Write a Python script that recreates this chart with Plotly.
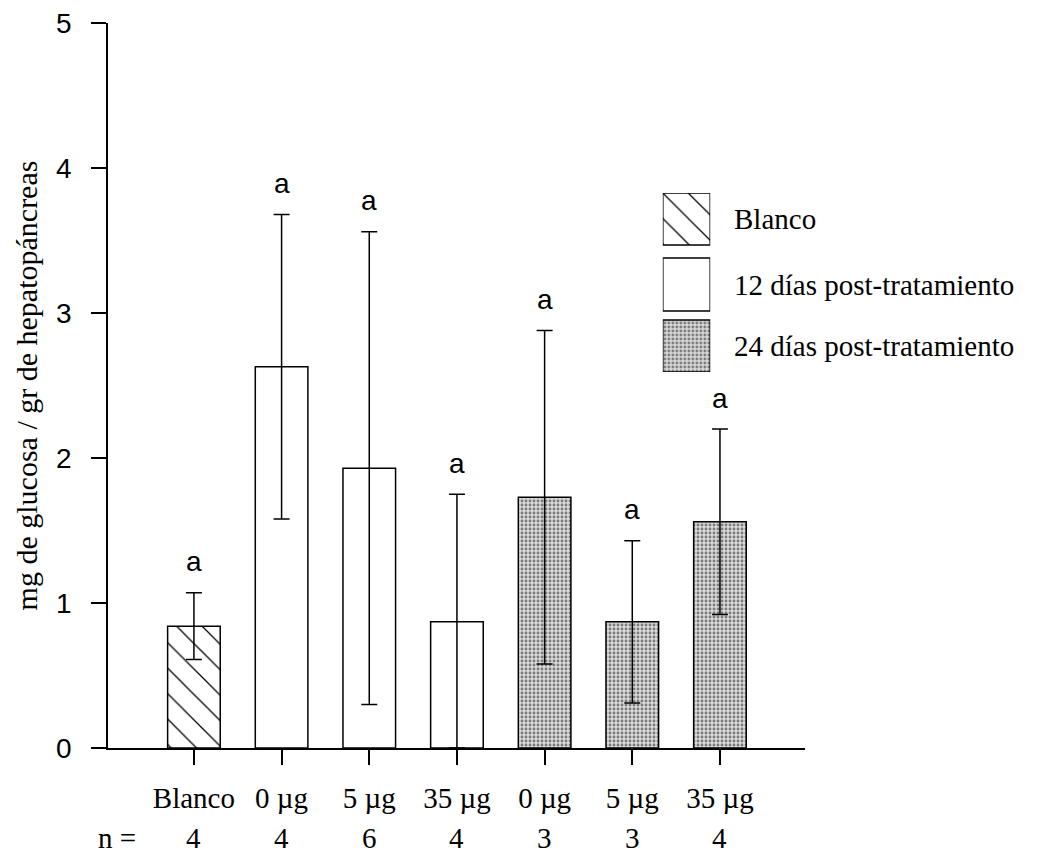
import plotly.graph_objects as go

# ---- data ----
tick_labels = ["Blanco", "0 µg", "5 µg", "35 µg", "0 µg", "5 µg", "35 µg"]
n_values = ["4", "4", "6", "4", "3", "3", "4"]
means = [0.84, 2.63, 1.93, 0.87, 1.73, 0.87, 1.56]
errors = [0.23, 1.05, 1.63, 0.88, 1.15, 0.56, 0.64]
letters = ["a", "a", "a", "a", "a", "a", "a"]
groups = ["Blanco", "12d", "12d", "12d", "24d", "24d", "24d"]
legend_labels = ["Blanco", "12 días post-tratamiento", "24 días post-tratamiento"]
y_title = "mg de glucosa / gr de hepatopáncreas"

SERIF = "Liberation Serif, Times New Roman, serif"
SANS = "Liberation Sans, Arial, sans-serif"

styles = {
    "Blanco": dict(color="white", pattern=dict(shape="\\", fgcolor="black", bgcolor="white",
                                               size=18, solidity=0.07, fillmode="replace")),
    "12d": dict(color="white"),
    "24d": dict(color="#d0d0d0", pattern=dict(shape=".", fgcolor="#7a7a7a", bgcolor="#dadada",
                                              size=4, solidity=0.4, fillmode="replace")),
}

fig = go.Figure()
positions = list(range(len(means)))
for g in ["Blanco", "12d", "24d"]:
    idx = [i for i in positions if groups[i] == g]
    m = dict(styles[g])
    m["line"] = dict(color="black", width=1.5)
    fig.add_trace(go.Bar(
        x=[positions[i] for i in idx],
        y=[means[i] for i in idx],
        width=0.6,
        marker=m,
        error_y=dict(type="data", symmetric=False,
                     array=[errors[i] for i in idx],
                     arrayminus=[min(errors[i], means[i]) for i in idx],
                     color="black", thickness=1.5, width=8),
        showlegend=False,
        xaxis="x", yaxis="y",
    ))

# letters above error bars
for i in positions:
    fig.add_annotation(x=positions[i], y=means[i] + errors[i], text=letters[i],
                       showarrow=False, yanchor="middle", yshift=31,
                       font=dict(family=SANS, size=28, color="black"))

# n row
fig.add_annotation(x=0, xref="paper", xanchor="left", xshift=-12, y=-0.124, yref="paper",
                   yanchor="middle", text="n =", showarrow=False,
                   font=dict(family=SERIF, size=29, color="black"))
for i in positions:
    fig.add_annotation(x=positions[i], y=-0.124, yref="paper", yanchor="middle",
                       text=n_values[i], showarrow=False,
                       font=dict(family=SERIF, size=29, color="black"))

# legend boxes drawn as bars on an auxiliary axis
legend_groups = ["Blanco", "12d", "24d"]
box_base = [127, 61, 0]
box_h = [52, 53, 52]
for k, g in enumerate(legend_groups):
    m = dict(styles[g])
    m["line"] = dict(color="black", width=1.5)
    fig.add_trace(go.Bar(x=[0], y=[box_h[k]], base=[box_base[k]], width=1, marker=m,
                         showlegend=False, xaxis="x2", yaxis="y2", hoverinfo="skip"))
legend_y = [0.7297, 0.639, 0.5545]
for k, lab in enumerate(legend_labels):
    fig.add_annotation(x=0.895, xref="paper", xanchor="left", y=legend_y[k], yref="paper",
                       yanchor="middle", text=lab, showarrow=False,
                       font=dict(family=SERIF, size=29, color="black"))

fig.update_layout(
    width=1030, height=848,
    margin=dict(l=100, r=233, t=15, b=108, autoexpand=False),
    paper_bgcolor="white", plot_bgcolor="white",
    barmode="overlay",
    xaxis=dict(range=[-0.98, 6.97], tickmode="array", tickvals=positions, ticktext=tick_labels,
               ticks="outside", ticklen=15, tickwidth=1.5, tickcolor="black",
               showline=True, linecolor="black", linewidth=1.5,
               showgrid=False, zeroline=False, ticklabelstandoff=8, automargin=False,
               tickfont=dict(family=SERIF, size=29, color="black")),
    yaxis=dict(range=[0, 5], tickmode="array", tickvals=[0, 1, 2, 3, 4, 5],
               ticks="outside", ticklen=15, tickwidth=1.5, tickcolor="black",
               showline=True, linecolor="black", linewidth=1.5,
               showgrid=False, zeroline=False, ticklabelstandoff=14,
               ticklabeloverflow="allow", automargin=False,
               tickfont=dict(family=SANS, size=28, color="black"),
               title=dict(text=y_title, standoff=10,
                          font=dict(family=SERIF, size=30, color="black"))),
    xaxis2=dict(domain=[0.796, 0.864], range=[-0.5, 0.5], anchor="y2", visible=False),
    yaxis2=dict(domain=[0.5186, 0.7655], range=[0, 179], anchor="x2", visible=False),
)

fig.write_html("out.html")
